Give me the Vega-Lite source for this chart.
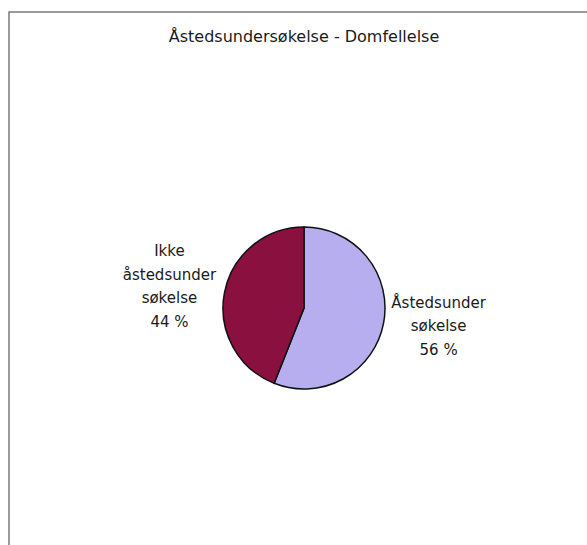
{
  "$schema": "https://vega.github.io/schema/vega-lite/v6.json",
  "width": 588,
  "height": 540,
  "padding": {"left": 9, "top": 12, "right": -10, "bottom": -7},
  "autosize": {"type": "none"},
  "background": "white",
  "view": {"stroke": "#7a7a7a", "strokeWidth": 1.5, "fill": "white"},
  "config": {
    "font": "DejaVu Sans"
  },
  "title": {
    "text": "Åstedsundersøkelse - Domfellelse",
    "orient": "top",
    "anchor": "middle",
    "offset": -31,
    "baseline": "alphabetic",
    "dx": 1,
    "dy": 15,
    "fontSize": 16,
    "fontWeight": "normal",
    "font": "DejaVu Sans",
    "color": "#1a1a1a"
  },
  "data": {
    "values": [
      {"kategori": "Åstedsundersøkelse", "andel": 56, "etikett": "Åstedsunder\nsøkelse\n56 %"},
      {"kategori": "Ikke åstedsundersøkelse", "andel": 44, "etikett": "Ikke\nåstedsunder\nsøkelse\n44 %"}
    ]
  },
  "encoding": {
    "theta": {"field": "andel", "type": "quantitative", "stack": true},
    "order": {"field": "andel", "type": "quantitative", "sort": "descending"}
  },
  "layer": [
    {
      "mark": {"type": "arc", "outerRadius": 81, "stroke": "#111111", "strokeWidth": 1.5, "xOffset": 1, "yOffset": 26},
      "encoding": {
        "color": {
          "field": "kategori",
          "type": "nominal",
          "scale": {"domain": ["Åstedsundersøkelse", "Ikke åstedsundersøkelse"], "range": ["#B7AEF0", "#8A1040"]},
          "legend": null
        }
      }
    },
    {
      "mark": {"type": "text", "radius": 137, "lineBreak": "\n", "lineHeight": 23.5, "fontSize": 15, "font": "DejaVu Sans", "fill": "#1a1a1a", "align": "center", "baseline": "middle", "xOffset": 1, "yOffset": 26, "dy": -31},
      "encoding": {
        "text": {"field": "etikett", "type": "nominal"}
      }
    }
  ]
}
